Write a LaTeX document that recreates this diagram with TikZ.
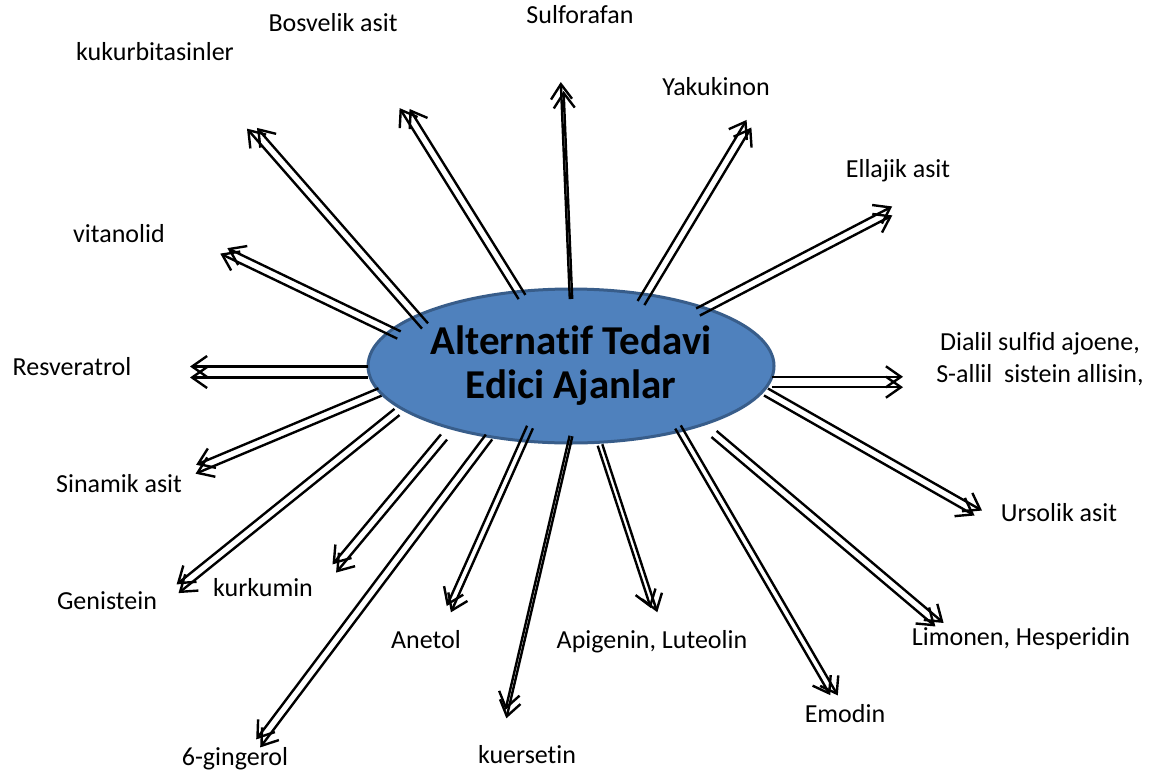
\documentclass[tikz,border=0pt]{standalone}
\usepackage{fontspec}
\setmainfont{Carlito}[Ligatures=NoCommon]
\usetikzlibrary{arrows.meta,calc,shapes.geometric}

\definecolor{corefill}{HTML}{4F81BD}
\definecolor{coreline}{HTML}{385D8A}

% two side by side lines, each with its own open tip
\newcommand{\twinarrow}[4]{%
  \draw[twin] ($(#1)!#3!90:(#2)$) -- ($(#2)!#3!-90:(#1)$);
  \draw[twin, shorten >=#4] ($(#1)!#3!-90:(#2)$) -- ($(#2)!#3!90:(#1)$);
}

\begin{document}
\begin{tikzpicture}[x=0.5pt,y=-0.5pt]
  \tikzstyle{twin}=[draw=black, line width=1.2pt, -{Straight Barb[length=7.5pt,width=10.5pt]}]
  \tikzstyle{core}=[ellipse, draw=coreline, line width=1.5pt, fill=corefill,
    minimum width=203pt, minimum height=77pt, inner sep=0pt, align=center,
    font=\fontsize{20.5}{22}\selectfont\bfseries]
  \tikzstyle{agentbox}=[inner sep=0pt, align=center, font=\fontsize{13}{16}\selectfont]
  \tikzstyle{agent}=[agentbox, text height=0.7em, text depth=0.2em]

  \useasboundingbox (0,0) rectangle (1154,776);

  % Draw the centre
  \node[core] (core) at (571,366) {Alternatif Tedavi\\Edici Ajanlar};

  % Draw the agents
  \node[agent] (kuk) at (155,55) {kukurbitasinler};
  \node[agent] (bos) at (333,26) {Bosvelik asit};
  \node[agent] (sul) at (580,18) {Sulforafan};
  \node[agent] (yak) at (716,90) {Yakukinon};
  \node[agent] (ell) at (898,172) {Ellajik asit};
  \node[agentbox] (dia) at (1040,359) {Dialil sulfid ajoene,\\S-allil~ sistein allisin,};
  \node[agent] (urs) at (1059,516) {Ursolik asit};
  \node[agent] (lim) at (1021,640) {Limonen, Hesperidin};
  \node[agent] (emo) at (845,717) {Emodin};
  \node[agent] (api) at (652,643) {Apigenin, Luteolin};
  \node[agent] (kue) at (527,758) {kuersetin};
  \node[agent] (ane) at (426,643) {Anetol};
  \node[agent] (gin) at (235,760) {6-gingerol};
  \node[agent] (kur) at (263,591) {kurkumin};
  \node[agent] (gen) at (107,604) {Genistein};
  \node[agent] (sin) at (119,487) {Sinamik asit};
  \node[agent] (res) at (72,370) {Resveratrol};
  \node[agent] (vit) at (119,237) {vitanolid};

  % Arrow ends: start on the centre, tip near the agent
  \foreach \name/\sx/\sy/\tx/\ty in {kuk/425/326/250/126, bos/522/297/403/106,
    sul/571/299/562/82, yak/641/303/750/122, ell/698/312/894/210,
    dia/772/382/903/382, urs/766/392/980/514, lim/714/434/941/626,
    emo/678/427/835/697, api/600/445/655/613, kue/571/436/505/718,
    ane/530/427/448/611, gin/489/437/257/745, kur/444/437/333/570,
    gen/397/412/176/590, sin/380/392/194/470, res/368/372/190/372,
    vit/399/335/222/250}
  {
    \coordinate (S-\name) at (\sx,\sy);
    \coordinate (T-\name) at (\tx,\ty);
  }

  % Connect centre and agents
  \foreach \name/\gap/\lag in {kuk/2pt/3pt, bos/2pt/3pt, sul/0.6pt/4.5pt,
    yak/2pt/2pt, ell/2pt/2pt, dia/2.6pt/0pt, urs/2pt/2pt, lim/2pt/2pt,
    emo/1.6pt/2pt, api/1.2pt/3pt, kue/0.7pt/4pt, ane/1.6pt/2pt,
    gin/2pt/2pt, kur/2pt/2pt, gen/2pt/2pt, sin/2pt/2pt, res/2.75pt/0pt,
    vit/2pt/2pt}
  {
    \twinarrow{S-\name}{T-\name}{\gap}{\lag}
  }
\end{tikzpicture}
\end{document}
